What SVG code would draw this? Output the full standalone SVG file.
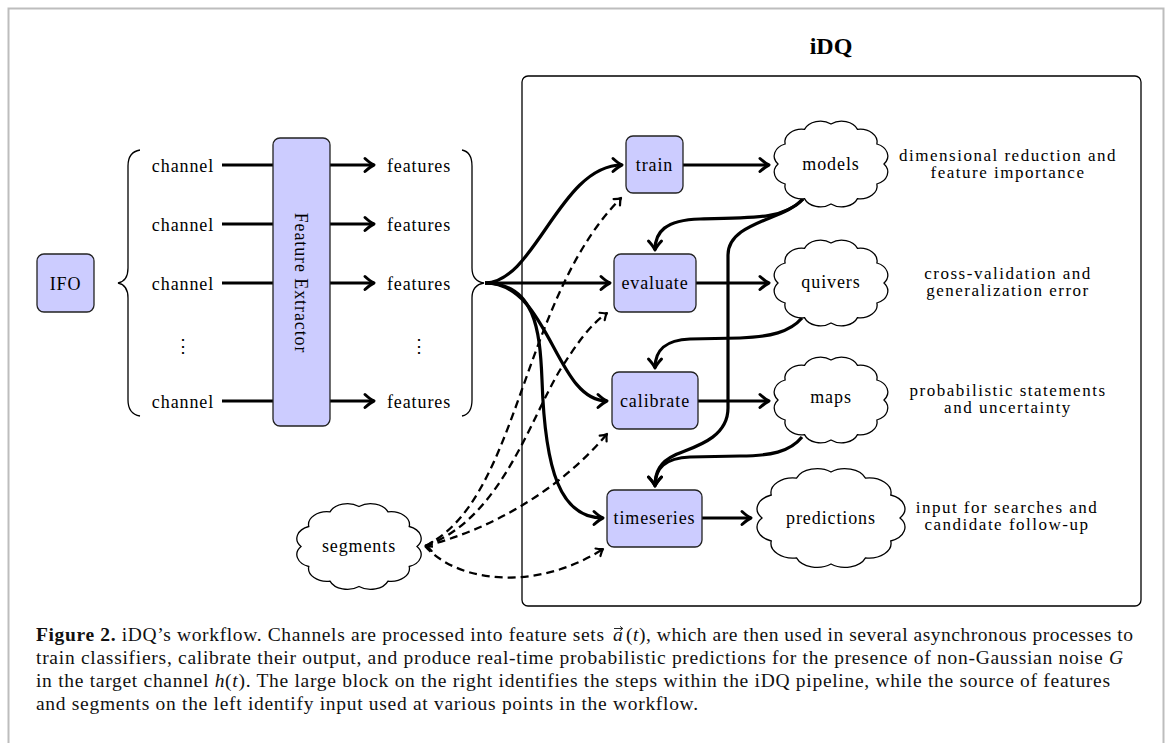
<svg xmlns="http://www.w3.org/2000/svg" xmlns:xlink="http://www.w3.org/1999/xlink" width="1166" height="743" viewBox="0 0 1166 743">
  <style>
    .lbl { font-family: "Liberation Serif", "Times New Roman", serif; font-size: 18px; letter-spacing: 0.9px; fill: #000; text-anchor: middle; }
    .note { font-family: "Liberation Serif", "Times New Roman", serif; font-size: 17px; letter-spacing: 1.5px; fill: #000; text-anchor: middle; }
    .ttl { font-family: "Liberation Serif", "Times New Roman", serif; font-size: 24px; font-weight: bold; fill: #000; text-anchor: middle; }
    .cap { font-family: "Liberation Serif", "Times New Roman", serif; font-size: 19.5px; fill: #111; }
    .box { fill: #ccccff; stroke: #222; stroke-width: 1.3; }
    .cloud { fill: #fff; stroke: #000; stroke-width: 1.3; }
    .brace { fill: none; stroke: #000; stroke-width: 1.3; }
    .thick { fill: none; stroke: #000; stroke-width: 3.2; marker-end: url(#tip); }
    .plain { fill: none; stroke: #000; stroke-width: 3.2; }
    .dash { fill: none; stroke: #000; stroke-width: 2.3; stroke-dasharray: 8 5; marker-end: url(#tipd); }
  </style>
  <defs>
    <marker id="tip" markerUnits="userSpaceOnUse" markerWidth="24" markerHeight="24" viewBox="-12 -12 24 24" refX="0" refY="0" orient="auto" overflow="visible">
      <path d="M-9,-6.5 Q-3.5,-1.5 0,0 Q-3.5,1.5 -9,6.5" fill="none" stroke="#000" stroke-width="3" stroke-linecap="round" stroke-linejoin="round"/>
    </marker>
    <marker id="tipd" markerUnits="userSpaceOnUse" markerWidth="16" markerHeight="16" viewBox="-8 -8 16 16" refX="0" refY="0" orient="auto" overflow="visible">
      <path d="M-6,-4.5 Q-2.5,-1 0,0 Q-2.5,1 -6,4.5" fill="none" stroke="#000" stroke-width="2.2" stroke-dasharray="none" stroke-linecap="round" stroke-linejoin="round"/>
    </marker>
    <!-- unit cloud: twelve puffs around a unit circle, scaled per node -->
    <path id="cloud" vector-effect="non-scaling-stroke" d="M1,0 A0.32,0.32 0 0 1 0.866,0.5 A0.32,0.32 0 0 1 0.5,0.866 A0.32,0.32 0 0 1 0,1 A0.32,0.32 0 0 1 -0.5,0.866 A0.32,0.32 0 0 1 -0.866,0.5 A0.32,0.32 0 0 1 -1,0 A0.32,0.32 0 0 1 -0.866,-0.5 A0.32,0.32 0 0 1 -0.5,-0.866 A0.32,0.32 0 0 1 0,-1 A0.32,0.32 0 0 1 0.5,-0.866 A0.32,0.32 0 0 1 0.866,-0.5 A0.32,0.32 0 0 1 1,0 Z"/>
  </defs>

  <rect width="1166" height="743" fill="#fff"/>
  <!-- page frame -->
  <path d="M8.5,743 V8.5 H1163.5 V743" fill="none" stroke="#bdbdbd" stroke-width="2"/>

  <!-- pipeline block -->
  <g id="idq-block">
    <rect x="522" y="76" width="619" height="530" rx="6" fill="none" stroke="#000" stroke-width="1.3"/>
    <text class="ttl" x="831" y="54">iDQ</text>
  </g>

  <!-- braces -->
  <g id="braces">
    <path class="brace" d="M140,150 Q128,152 128,166 L128,268 Q128,281 118,283 Q128,285 128,298 L128,400 Q128,414 140,416"/>
    <path class="brace" d="M462,150 Q472,152 472,166 L472,268 Q472,281 484,283 Q472,285 472,298 L472,400 Q472,414 462,416"/>
  </g>

  <g id="connectors">
    <!-- channels into the extractor -->
    <path class="plain" d="M222,165 H274"/>
    <path class="plain" d="M222,224 H274"/>
    <path class="plain" d="M222,283 H274"/>
    <path class="plain" d="M222,401 H274"/>
    <!-- extractor to features -->
    <path class="thick" d="M329,165 H374"/>
    <path class="thick" d="M329,224 H374"/>
    <path class="thick" d="M329,283 H374"/>
    <path class="thick" d="M329,401 H374"/>
    <!-- features fan out into the pipeline -->
    <path class="thick" d="M485,283 C535,283 560,165 622,165"/>
    <path class="thick" d="M485,283 H610"/>
    <path class="thick" d="M485,283 C550,283 555,401 607,401"/>
    <path class="thick" d="M485,283 C535,283 540,330 542,380 C545,470 560,518 603,518"/>
    <!-- steps to products -->
    <path class="thick" d="M683,165 H769"/>
    <path class="thick" d="M696,283 H769"/>
    <path class="thick" d="M698,401 H769"/>
    <path class="thick" d="M702,518 H751"/>
    <!-- feedback loops -->
    <path class="thick" d="M803,199 C785,218 760,218 700,219 C665,220 655,232 655,250"/>
    <path class="thick" d="M803,199 C785,220 728,222 728,255 L728,408 C728,440 690,448 675,455 C660,462 655,472 655,486"/>
    <path class="thick" d="M802,318 C790,332 770,337 740,338 L690,339 C665,340 655,350 655,368"/>
    <path class="thick" d="M802,437 C790,452 770,456 740,456 L690,457 C665,458 655,468 655,486"/>
    <!-- segments feed every step -->
    <path class="dash" d="M425,546 C520,500 520,300 621,198"/>
    <path class="dash" d="M425,546 C500,520 530,420 560,370 C578,342 590,325 607,313"/>
    <path class="dash" d="M425,546 C490,530 560,490 607,434"/>
    <path class="dash" d="M425,546 C460,585 540,590 603,549"/>
    <path class="dash" d="M433,546.5 L426,546"/>
  </g>

  <g id="ifo">
    <rect class="box" x="37" y="254" width="57" height="58" rx="7"/>
    <text class="lbl" x="65.5" y="289.5">IFO</text>
  </g>

  <g id="channels">
    <text class="lbl" x="183" y="171.5">channel</text>
    <text class="lbl" x="183" y="230.5">channel</text>
    <text class="lbl" x="183" y="289.5">channel</text>
    <text class="lbl" x="183" y="352" style="font-family:'DejaVu Serif',serif;font-size:18px">⋮</text>
    <text class="lbl" x="183" y="407.5">channel</text>
  </g>

  <g id="feature-extractor">
    <rect class="box" x="273" y="138" width="57" height="288" rx="7"/>
    <text class="lbl" x="0" y="0" transform="translate(295,283) rotate(90)">Feature Extractor</text>
  </g>

  <g id="features">
    <text class="lbl" x="419" y="171.5">features</text>
    <text class="lbl" x="419" y="230.5">features</text>
    <text class="lbl" x="419" y="289.5">features</text>
    <text class="lbl" x="419" y="352" style="font-family:'DejaVu Serif',serif;font-size:18px">⋮</text>
    <text class="lbl" x="419" y="407.5">features</text>
  </g>

  <g id="train">
    <rect class="box" x="626" y="136" width="57" height="57" rx="7"/>
    <text class="lbl" x="654.5" y="171">train</text>
  </g>
  <g id="evaluate">
    <rect class="box" x="614" y="254" width="82" height="58" rx="7"/>
    <text class="lbl" x="655" y="289">evaluate</text>
  </g>
  <g id="calibrate">
    <rect class="box" x="612" y="372" width="86" height="57" rx="7"/>
    <text class="lbl" x="655" y="407">calibrate</text>
  </g>
  <g id="timeseries">
    <rect class="box" x="607" y="490" width="95" height="57" rx="7"/>
    <text class="lbl" x="654.5" y="524">timeseries</text>
  </g>

  <g id="models">
    <use href="#cloud" class="cloud" transform="translate(831,164) scale(53,40)"/>
    <text class="lbl" x="831" y="170">models</text>
    <text class="note" x="1008" y="161">dimensional reduction and</text>
    <text class="note" x="1008" y="178">feature importance</text>
  </g>
  <g id="quivers">
    <use href="#cloud" class="cloud" transform="translate(831,283) scale(53,40)"/>
    <text class="lbl" x="831" y="288">quivers</text>
    <text class="note" x="1008" y="279">cross-validation and</text>
    <text class="note" x="1008" y="296">generalization error</text>
  </g>
  <g id="maps">
    <use href="#cloud" class="cloud" transform="translate(831,400) scale(53,40)"/>
    <text class="lbl" x="831" y="403">maps</text>
    <text class="note" x="1008" y="396">probabilistic statements</text>
    <text class="note" x="1008" y="413">and uncertainty</text>
  </g>
  <g id="predictions">
    <use href="#cloud" class="cloud" transform="translate(831,518) scale(69,46)"/>
    <text class="lbl" x="831" y="524">predictions</text>
    <text class="note" x="1007" y="513">input for searches and</text>
    <text class="note" x="1007" y="530">candidate follow-up</text>
  </g>
  <g id="segments">
    <use href="#cloud" class="cloud" transform="translate(359,546.5) scale(58,40)"/>
    <text class="lbl" x="359" y="552">segments</text>
  </g>

  <!-- caption -->
  <g id="caption">
    <text class="cap" x="36" y="641" textLength="568" lengthAdjust="spacing"><tspan font-weight="bold">Figure 2.</tspan> iDQ’s workflow. Channels are processed into feature sets</text>
    <text class="cap" x="613" y="641" font-style="italic">a</text>
    <path d="M614,628.5 H622.5 M620,626.3 L622.8,628.5 L620,630.7" fill="none" stroke="#111" stroke-width="0.9"/>
    <text class="cap" x="626" y="641" textLength="507" lengthAdjust="spacing">(<tspan font-style="italic">t</tspan>), which are then used in several asynchronous processes to</text>
    <text class="cap" x="36" y="664" textLength="1087" lengthAdjust="spacing">train classifiers, calibrate their output, and produce real-time probabilistic predictions for the presence of non-Gaussian noise <tspan font-style="italic">G</tspan></text>
    <text class="cap" x="36" y="687" textLength="1074" lengthAdjust="spacing">in the target channel <tspan font-style="italic">h</tspan>(<tspan font-style="italic">t</tspan>). The large block on the right identifies the steps within the iDQ pipeline, while the source of features</text>
    <text class="cap" x="36" y="710" textLength="662" lengthAdjust="spacing">and segments on the left identify input used at various points in the workflow.</text>
  </g>
</svg>
